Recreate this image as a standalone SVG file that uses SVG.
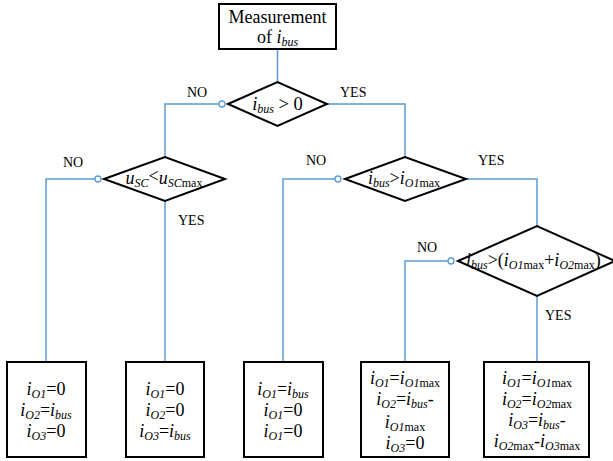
<svg xmlns="http://www.w3.org/2000/svg" width="613" height="461" viewBox="0 0 613 461" font-family="'Liberation Serif', 'Times New Roman', 'DejaVu Serif', serif">
<style>
.box{fill:#fff;stroke:#000;stroke-width:2}
.dia{fill:#fff;stroke:#000;stroke-width:2}
.ln{fill:none;stroke:#5B9BD5;stroke-width:1.5}
.dot{fill:#fff;stroke:#5B9BD5;stroke-width:1.3}
text{font-family:'Liberation Serif','Times New Roman','DejaVu Serif',serif;fill:#000}
.t{font-size:18px;text-anchor:middle}
.lb{font-size:14px}
.it{font-style:italic}
.s{font-size:12px}
</style>
<rect width="613" height="461" fill="#fff"/>
<g id="connectors">
<path class="ln" d="M277.5,49 V82"/>
<path class="ln" d="M225,104 H165 V157"/>
<path class="ln" d="M327,104 H405 V157"/>
<path class="ln" d="M101,179 H46 V362"/>
<path class="ln" d="M165,201 V362"/>
<path class="ln" d="M341,179 H283 V362"/>
<path class="ln" d="M465,179 H537 V226"/>
<path class="ln" d="M454,261 H405 V362"/>
<path class="ln" d="M537,296 V362"/>
<circle class="dot" cx="222" cy="104" r="3"/>
<circle class="dot" cx="98" cy="179" r="3"/>
<circle class="dot" cx="338" cy="179" r="3"/>
<circle class="dot" cx="451" cy="261" r="3"/>
<text class="lb" x="187" y="97">NO</text>
<text class="lb" x="340" y="97">YES</text>
<text class="lb" x="63" y="167">NO</text>
<text class="lb" x="178" y="225">YES</text>
<text class="lb" x="306" y="165">NO</text>
<text class="lb" x="478" y="165">YES</text>
<text class="lb" x="417" y="252">NO</text>
<text class="lb" x="545" y="320">YES</text>
</g>
<g id="start">
<rect class="box" x="219" y="4" width="117" height="45"/>
<text class="t" x="277.5" y="23">Measurement</text>
<text class="t" x="277.5" y="43">of <tspan class="it">i</tspan><tspan class="it s" dy="3">bus</tspan></text>
</g>
<g id="d1">
<polygon class="dia" points="228,104 277.5,82 327,104 277.5,126"/>
<text class="t" x="277.5" y="110" style="font-size:18.5px"><tspan class="it">i</tspan><tspan class="it s" dy="3">bus</tspan><tspan dy="-3"> &gt; 0</tspan></text>
</g>
<g id="d2">
<polygon class="dia" points="104,179 165,157 225,179 165,201"/>
<text class="t" x="164" y="184"><tspan class="it">u</tspan><tspan class="it s" dy="3">SC</tspan><tspan dy="-5">&lt;</tspan><tspan class="it" dy="2">u</tspan><tspan class="it s" dy="3">SC</tspan><tspan class="s">max</tspan></text>
</g>
<g id="d3">
<polygon class="dia" points="345,179 405,157 466,179 405,201"/>
<text class="t" x="404" y="184"><tspan class="it">i</tspan><tspan class="it s" dy="3">bus</tspan><tspan dy="-3">&gt;</tspan><tspan class="it">i</tspan><tspan class="it s" dy="3">O1</tspan><tspan class="s">max</tspan></text>
</g>
<g id="d4">
<polygon class="dia" points="458,261 537,226 615,261 537,296"/>
<text x="466" y="266" style="font-size:18px"><tspan class="it">i</tspan><tspan class="it s" dy="3">bus</tspan><tspan dy="-3">&gt;(</tspan><tspan class="it">i</tspan><tspan class="it s" dy="3">O1</tspan><tspan class="s">max</tspan><tspan dy="-3">+</tspan><tspan class="it">i</tspan><tspan class="it s" dy="3">O2</tspan><tspan class="s">max</tspan><tspan dy="-3">)</tspan></text>
</g>
<g id="r1">
<rect class="box" x="7" y="362" width="79" height="95"/>
<text class="t" x="46" y="395"><tspan class="it">i</tspan><tspan class="it s" dy="3">O1</tspan><tspan dy="-3">=0</tspan></text>
<text class="t" x="46" y="416"><tspan class="it">i</tspan><tspan class="it s" dy="3">O2</tspan><tspan dy="-3">=</tspan><tspan class="it">i</tspan><tspan class="it s" dy="3">bus</tspan></text>
<text class="t" x="46" y="437"><tspan class="it">i</tspan><tspan class="it s" dy="3">O3</tspan><tspan dy="-3">=0</tspan></text>
</g>
<g id="r2">
<rect class="box" x="126" y="362" width="78" height="95"/>
<text class="t" x="165" y="395"><tspan class="it">i</tspan><tspan class="it s" dy="3">O1</tspan><tspan dy="-3">=0</tspan></text>
<text class="t" x="165" y="416"><tspan class="it">i</tspan><tspan class="it s" dy="3">O2</tspan><tspan dy="-3">=0</tspan></text>
<text class="t" x="165" y="437"><tspan class="it">i</tspan><tspan class="it s" dy="3">O3</tspan><tspan dy="-3">=</tspan><tspan class="it">i</tspan><tspan class="it s" dy="3">bus</tspan></text>
</g>
<g id="r3">
<rect class="box" x="244" y="362" width="79" height="95"/>
<text class="t" x="283" y="395"><tspan class="it">i</tspan><tspan class="it s" dy="3">O1</tspan><tspan dy="-3">=</tspan><tspan class="it">i</tspan><tspan class="it s" dy="3">bus</tspan></text>
<text class="t" x="283" y="416"><tspan class="it">i</tspan><tspan class="it s" dy="3">O1</tspan><tspan dy="-3">=0</tspan></text>
<text class="t" x="283" y="437"><tspan class="it">i</tspan><tspan class="it s" dy="3">O1</tspan><tspan dy="-3">=0</tspan></text>
</g>
<g id="r4">
<rect class="box" x="361" y="362" width="88" height="95"/>
<text class="t" x="405" y="384"><tspan class="it">i</tspan><tspan class="it s" dy="3">O1</tspan><tspan dy="-3">=</tspan><tspan class="it">i</tspan><tspan class="it s" dy="3">O1</tspan><tspan class="s">max</tspan></text>
<text class="t" x="405" y="405"><tspan class="it">i</tspan><tspan class="it s" dy="3">O2</tspan><tspan dy="-3">=</tspan><tspan class="it">i</tspan><tspan class="it s" dy="3">bus</tspan><tspan dy="-3">-</tspan></text>
<text class="t" x="405" y="428"><tspan class="it">i</tspan><tspan class="it s" dy="3">O1</tspan><tspan class="s">max</tspan></text>
<text class="t" x="405" y="449"><tspan class="it">i</tspan><tspan class="it s" dy="3">O3</tspan><tspan dy="-3">=0</tspan></text>
</g>
<g id="r5">
<rect class="box" x="484" y="362" width="105" height="95"/>
<text class="t" x="537" y="384"><tspan class="it">i</tspan><tspan class="it s" dy="3">O1</tspan><tspan dy="-3">=</tspan><tspan class="it">i</tspan><tspan class="it s" dy="3">O1</tspan><tspan class="s">max</tspan></text>
<text class="t" x="537" y="405"><tspan class="it">i</tspan><tspan class="it s" dy="3">O2</tspan><tspan dy="-3">=</tspan><tspan class="it">i</tspan><tspan class="it s" dy="3">O2</tspan><tspan class="s">max</tspan></text>
<text class="t" x="537" y="426"><tspan class="it">i</tspan><tspan class="it s" dy="3">O3</tspan><tspan dy="-3">=</tspan><tspan class="it">i</tspan><tspan class="it s" dy="3">bus</tspan><tspan dy="-3">-</tspan></text>
<text class="t" x="537" y="447"><tspan class="it">i</tspan><tspan class="it s" dy="3">O2</tspan><tspan class="s">max</tspan><tspan dy="-3">-</tspan><tspan class="it">i</tspan><tspan class="it s" dy="3">O3</tspan><tspan class="s">max</tspan></text>
</g>
</svg>
